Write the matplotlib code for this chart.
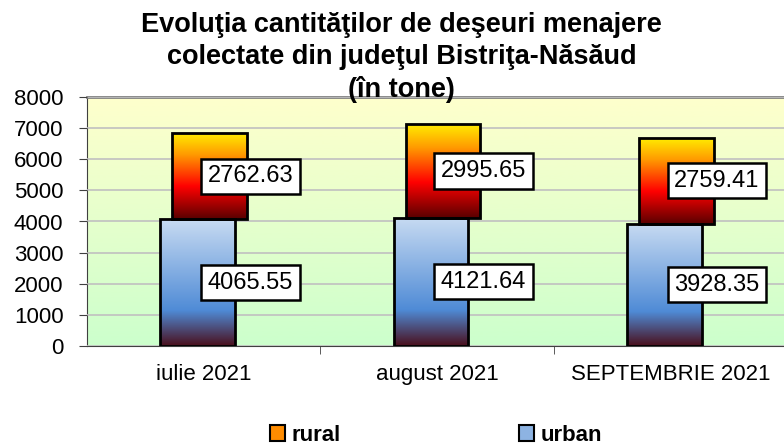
import numpy as np
import matplotlib.pyplot as plt
from matplotlib.colors import LinearSegmentedColormap
from matplotlib.patches import Patch

plt.rcParams["font.family"] = ["Liberation Sans", "DejaVu Sans"]

# data (tone)
months = ["iulie 2021", "august 2021", "SEPTEMBRIE 2021"]
urban = [4065.55, 4121.64, 3928.35]
rural = [2762.63, 2995.65, 2759.41]

title = ("Evoluţia cantităţilor de deşeuri menajere\n"
         "colectate din judeţul Bistriţa-Năsăud\n(în tone)")

urban_cmap = LinearSegmentedColormap.from_list(
    "urban", [(0, "#4a0f1c"), (0.28, "#4f8bd6"), (1, "#c8dbf2")])
rural_cmap = LinearSegmentedColormap.from_list(
    "rural", [(0, "#5a0000"), (0.38, "#ff0000"), (0.75, "#ff9a00"), (1, "#ffec00")])
bg_cmap = LinearSegmentedColormap.from_list("bg", ["#ccffcc", "#ffffcc"])

GRAD = np.linspace(0, 1, 256).reshape(-1, 1)


def gradient_bar(ax, x, bottom, height, width, cmap):
    """Draw one bar filled with a vertical gradient."""
    bar = ax.bar(x, height, width, bottom=bottom, facecolor="none",
                 edgecolor="black", linewidth=2, zorder=4)[0]
    im = ax.imshow(GRAD, cmap=cmap, origin="lower", aspect="auto",
                   extent=(x - width / 2, x + width / 2, bottom, bottom + height),
                   zorder=3, interpolation="bicubic")
    im.set_clip_path(bar)
    return bar


def label(ax, x, y, value):
    ax.text(x, y, f"{value:.2f}", ha="center", va="center", fontsize=17,
            zorder=6, bbox=dict(boxstyle="square,pad=0.28", facecolor="white",
                                edgecolor="black", linewidth=1.8))


fig = plt.figure(figsize=(7.84, 4.44), dpi=100)
ax = fig.add_axes([87 / 784, 98 / 444, 700 / 784, 249 / 444])

# plot area background
ax.imshow(GRAD, cmap=bg_cmap, origin="lower", aspect="auto",
          extent=(-0.5, 2.5, 0, 8000), zorder=0)

x = np.arange(len(months))
width = 0.32
shift = 0.026
for i in range(len(months)):
    gradient_bar(ax, x[i] - shift, 0, urban[i], width, urban_cmap)
    gradient_bar(ax, x[i] + shift, urban[i], rural[i], width, rural_cmap)
    label(ax, x[i] + 0.2, urban[i] / 2, urban[i])
    label(ax, x[i] + 0.2, urban[i] + rural[i] / 2, rural[i])

ax.set_xlim(-0.5, 2.5)
ax.set_ylim(0, 8000)
ax.set_yticks(np.arange(0, 8001, 1000))
ax.yaxis.grid(True, color="#c0c0c0", linewidth=1.2)
ax.set_axisbelow(False)
for line in ax.get_ygridlines():
    line.set_zorder(1)

ax.set_xticks(x)
ax.set_xticklabels(months)
ax.set_xticks([0.5, 1.5], minor=True)
ax.tick_params(axis="x", which="major", length=0, labelsize=16, pad=13)
ax.tick_params(axis="x", which="minor", length=6, color="#404040")
ax.tick_params(axis="y", length=6, labelsize=16, pad=11, color="#404040")

ax.spines["right"].set_visible(False)
ax.spines["top"].set_color("#808080")
ax.spines["top"].set_linewidth(2)
ax.spines["left"].set_color("#404040")
ax.spines["bottom"].set_color("#404040")

fig.text(0.512, 0.973, title, ha="center", va="top", fontsize=19.5,
         fontweight="bold", linespacing=1.3, zorder=10)

handles = [Patch(facecolor="#ff8c00", edgecolor="black", linewidth=1.5),
           Patch(facecolor="#8db3e2", edgecolor="black", linewidth=1.5)]
fig.legend(handles, ["rural", "urban"], loc="center", ncol=2, frameon=False,
           bbox_to_anchor=(436 / 784, 1 - 435 / 444), handlelength=0.7,
           handleheight=0.7, handletextpad=0.3, columnspacing=8.0,
           prop=dict(size=16, weight="bold"))

fig.savefig("out.png", dpi=100)
